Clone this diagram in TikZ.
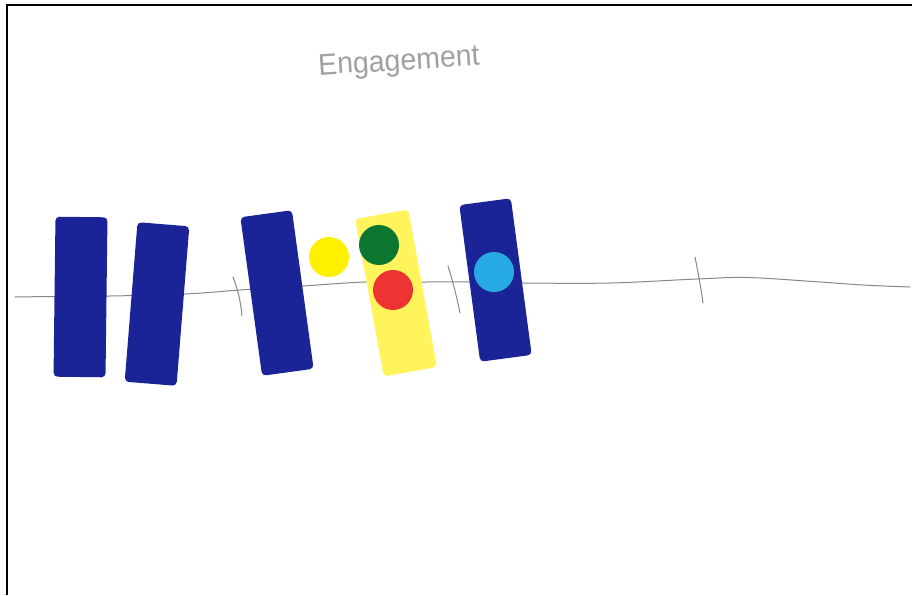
\documentclass[tikz,border=0pt]{standalone}
\usepackage{fontspec}
\setmainfont{Liberation Sans}
\definecolor{barblue}{RGB}{27,36,150}
\definecolor{baryellow}{RGB}{255,244,92}
\definecolor{dotyellow}{RGB}{255,240,0}
\definecolor{dotgreen}{RGB}{10,118,48}
\definecolor{dotred}{RGB}{238,52,50}
\definecolor{dotcyan}{RGB}{40,170,228}
\definecolor{pencil}{RGB}{135,135,135}
\definecolor{inktext}{RGB}{160,160,160}
\tikzset{
  bar/.style={draw=none, rounded corners=4pt, minimum width=52pt, minimum height=160pt, inner sep=0pt},
  spot/.style={circle, draw=none, minimum size=40pt, inner sep=0pt},
  pencilline/.style={draw=pencil, line width=1pt, line cap=round},
  frame/.style={draw=black, line width=1.8pt}
}
\begin{document}
\begin{tikzpicture}[x=1pt,y=-1pt]
\useasboundingbox (0,0) rectangle (912,595);
\fill[white] (0,0) rectangle (912,595);
% frame (top and left edges)
\draw[frame] (7,595) -- (7,5) -- (912,5);
% title
\node[text=inktext, rotate=3.5, inner sep=0pt, xscale=0.95, font=\fontsize{30}{36}\selectfont] (title) at (399,63) {Engagement};
% time line
\draw[pencilline] plot[smooth, tension=0.6] coordinates {(15,297) (53,296.5) (110,296) (185,294) (240,290) (303,286) (365,282) (420,282) (470,282) (525,283) (610,283) (697,279) (747,277.5) (813,281.5) (863,285) (910,287)};
% ticks
\draw[pencilline] (233,277) .. controls (238,290) and (241,303) .. (242,316);
\draw[pencilline] (448,266) .. controls (453,282) and (457,298) .. (460,313);
\draw[pencilline] (695,257) .. controls (698,272) and (701,288) .. (703,303);
% bars
\node[bar, fill=barblue, rotate=-0.7] (b1) at (80.5,297) {};
\node[bar, fill=barblue, rotate=-4.6] (b2) at (157,304) {};
\node[bar, fill=barblue, rotate=7.8] (b3) at (277,293) {};
\node[bar, fill=baryellow, rotate=10.3, minimum width=54pt] (b4) at (396,293) {};
\node[bar, fill=barblue, rotate=7.6, minimum height=158pt] (b5) at (495.5,280) {};
% spots
\node[spot, fill=dotyellow] (s1) at (329,257) {};
\node[spot, fill=dotgreen] (s2) at (379,245) {};
\node[spot, fill=dotred] (s3) at (393,290) {};
\node[spot, fill=dotcyan] (s4) at (494,272) {};
\end{tikzpicture}
\end{document}
